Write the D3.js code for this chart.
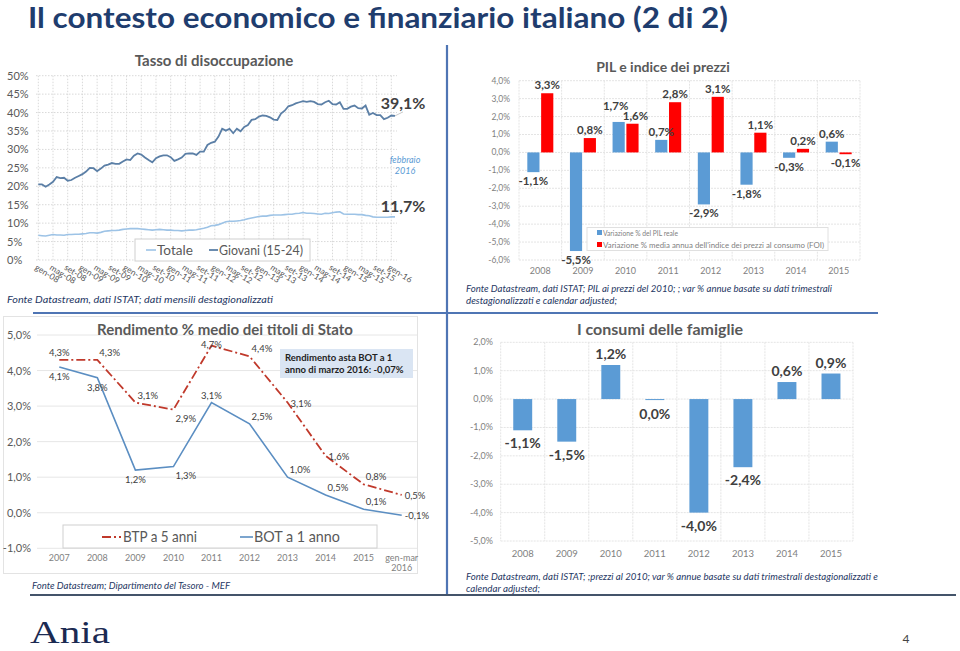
<!DOCTYPE html>
<html><head><meta charset="utf-8">
<script src="https://cdn.jsdelivr.net/npm/d3@7"></script>
<style>
html,body{margin:0;padding:0;background:#fff;}
svg{display:block;font-family:Lato,"Open Sans",sans-serif;}
</style></head>
<body>
<svg id="slide" width="960" height="651"></svg>
<script>
// ---------- DATA ----------
// Chart 1: Tasso di disoccupazione (monthly, gen-08 .. feb-16)
const unempTickLabels = ["gen-08","mag-08","set-08","gen-09","mag-09","set-09","gen-10","mag-10","set-10","gen-11","mag-11","set-11","gen-12","mag-12","set-12","gen-13","mag-13","set-13","gen-14","mag-14","set-14","gen-15","mag-15","set-15","gen-16"];
const giovani = [20.5,20.5,19.9,20.5,21.2,22.5,22.2,22.3,21.5,21.7,22.3,22.8,23.3,24.0,25.0,24.9,24.1,24.8,25.6,25.9,26.3,26.1,26.1,26.7,27.3,27.1,28.3,28.9,28.6,27.8,27.1,26.5,27.6,28.1,28.4,28.4,27.9,26.9,27.3,27.8,28.8,28.9,28.9,28.5,29.4,29.4,31.2,31.8,32.1,33.5,35.6,35.1,35.6,34.4,35.6,34.9,36.1,36.6,38.0,38.2,38.9,39.2,39.1,38.7,38.1,38.0,39.7,40.5,41.7,42.0,42.5,42.8,43.1,42.9,43.1,42.9,42.3,42.2,42.8,43.2,42.3,42.2,42.8,41.0,41.0,41.6,41.9,41.2,41.1,41.9,39.4,39.9,39.3,39.3,38.2,38.6,39.2,39.1];
const totale = [6.7,6.6,6.5,6.7,6.9,6.8,6.8,6.7,6.9,6.9,7.0,7.0,7.1,7.2,7.4,7.4,7.3,7.5,7.8,7.9,8.0,8.0,8.1,8.3,8.4,8.5,8.5,8.5,8.4,8.3,8.2,8.1,8.2,8.3,8.2,8.1,8.1,8.0,8.0,7.9,8.0,8.1,8.1,8.2,8.4,8.6,8.9,9.3,9.4,9.6,10.0,10.4,10.5,10.5,10.6,10.7,10.9,11.2,11.4,11.6,11.8,11.9,11.9,12.1,12.2,12.2,12.2,12.3,12.4,12.4,12.6,12.7,12.9,12.7,12.7,12.6,12.5,12.4,12.7,12.6,12.8,13.0,13.1,12.5,12.4,12.4,12.4,12.3,12.3,12.1,12.0,11.7,11.6,11.6,11.6,11.6,11.7,11.7];
const unempYTicks = [0,5,10,15,20,25,30,35,40,45,50];

// Chart 2: PIL e indice dei prezzi
const pilYears = ["2008","2009","2010","2011","2012","2013","2014","2015"];
const pilReale = [-1.1,-5.5,1.7,0.7,-2.9,-1.8,-0.3,0.6];
const prezziFOI = [3.3,0.8,1.6,2.8,3.1,1.1,0.2,-0.1];
const pilYTicks = [4,3,2,1,0,-1,-2,-3,-4,-5,-6];
const pilSeriesNames = ["Variazione %  del PIL reale","Variazione % media annua dell'indice dei prezzi al consumo (FOI)"];

// Chart 3: Rendimento % medio dei titoli di Stato
const rendYears = ["2007","2008","2009","2010","2011","2012","2013","2014","2015","gen-mar|2016"];
const btp5 = [4.3,4.3,3.1,2.9,4.7,4.4,3.1,1.6,0.8,0.5];
const bot1 = [4.1,3.8,1.2,1.3,3.1,2.5,1.0,0.5,0.1,-0.07];
const btpLabelPlace = ["t","tr","tr","br","o","tr","r","r","tr","r"];
const botLabelPlace = ["b","b","b","br","t","tr","tr","tr","tr","r"];
const rendYTicks = [5,4,3,2,1,0,-1];

// Chart 4: I consumi delle famiglie
const consYears = ["2008","2009","2010","2011","2012","2013","2014","2015"];
const consumi = [-1.1,-1.5,1.2,-0.03,-4.0,-2.4,0.6,0.9];
const consYTicks = [2,1,0,-1,-2,-3,-4,-5];

// ---------- HELPERS ----------
const svg = d3.select("#slide");
const fmtPct1 = v => (Math.round(v*10)/10).toFixed(1).replace(".",",") + "%";
function fit(sel, w){
  sel.each(function(){
    const L = this.getComputedTextLength();
    if (L > 0 && Math.abs(L - w) > 0.5) { d3.select(this).attr("textLength", w).attr("lengthAdjust","spacingAndGlyphs"); }
  });
  return sel;
}
const navy = "#1F3864";
const grey = "#595959";
const gridCol = "#d9d9d9";

// ---------- SLIDE FRAME ----------
fit(svg.append("text").attr("x",28).attr("y",28).attr("font-size",28).attr("font-weight",700)
  .attr("fill","#1F3D6E").text("Il contesto economico e finanziario italiano (2 di 2)"), 700);

svg.append("line").attr("x1",447).attr("x2",447).attr("y1",45).attr("y2",594).attr("stroke","#4F75B4").attr("stroke-width",2.2);
svg.append("line").attr("x1",33).attr("x2",878).attr("y1",313).attr("y2",313).attr("stroke","#4F75B4").attr("stroke-width",2.2);
svg.append("line").attr("x1",30).attr("x2",956).attr("y1",595).attr("y2",595).attr("stroke","#44546A").attr("stroke-width",2);

fit(svg.append("text").attr("x",30).attr("y",643).attr("font-family","'Liberation Serif','DejaVu Serif',serif")
  .attr("font-size",31).attr("fill","#1B2A52").text("Ania"), 80);
svg.append("text").attr("x",906).attr("y",643).attr("text-anchor","middle").attr("font-size",12).attr("fill","#444").text("4");

// ---------- CHART 1: Tasso di disoccupazione ----------
(function(){
  const g = svg.append("g");
  const x = d3.scaleLinear().domain([0, giovani.length-1]).range([38.3, 395]);
  const y = d3.scaleLinear().domain([0,50]).range([260, 75.7]);
  g.selectAll(".hg").data(unempYTicks).join("line")
    .attr("x1",36).attr("x2",397).attr("y1",d=>y(d)).attr("y2",d=>y(d))
    .attr("stroke",gridCol).attr("stroke-dasharray","1.5,1.5");
  const vticks = unempTickLabels.map((l,i)=>i*4);
  g.selectAll(".vg").data(vticks).join("line")
    .attr("x1",d=>x(d)).attr("x2",d=>x(d)).attr("y1",y(50)).attr("y2",y(0))
    .attr("stroke",gridCol).attr("stroke-dasharray","1.5,1.5");
  g.selectAll(".yl").data(unempYTicks).join("text")
    .attr("x",7).attr("y",d=>y(d)+4).attr("font-size",11).attr("fill",grey).text(d=>d+"%");
  g.selectAll(".xl").data(unempTickLabels).join("text")
    .attr("transform",(d,i)=>`translate(${x(i*4)-4},${269}) rotate(32)`)
    .attr("font-size",8.5).attr("fill",grey).text(d=>d);
  const line = d3.line().x((d,i)=>x(i)).y(d=>y(d));
  g.append("path").datum(totale).attr("d",line).attr("fill","none").attr("stroke","#9DC3E6").attr("stroke-width",1.6);
  g.append("path").datum(giovani).attr("d",line).attr("fill","none").attr("stroke","#5B7FA6").attr("stroke-width",1.8);
  g.append("text").attr("x",214).attr("y",66).attr("text-anchor","middle").attr("font-size",15).attr("font-weight",700)
    .attr("fill",grey).text("Tasso di disoccupazione");
  const last = giovani.length-1;
  g.append("line").attr("x1",x(last)).attr("y1",y(giovani[last])).attr("x2",x(last)+8).attr("y2",y(giovani[last])-4).attr("stroke","#bbb").attr("stroke-width",0.8);
  g.append("text").attr("x",403).attr("y",109).attr("text-anchor","middle").attr("font-size",16).attr("font-weight",700)
    .attr("fill","#404040").text(fmtPct1(giovani[last]));
  g.append("text").attr("x",403).attr("y",212).attr("text-anchor","middle").attr("font-size",16).attr("font-weight",700)
    .attr("fill","#404040").text(fmtPct1(totale[last]));
  g.append("text").attr("x",405).attr("y",163).attr("text-anchor","middle").attr("font-size",9).attr("font-style","italic")
    .attr("fill","#5B9BD5").text("febbraio");
  g.append("text").attr("x",405).attr("y",174).attr("text-anchor","middle").attr("font-size",9).attr("font-style","italic")
    .attr("fill","#5B9BD5").text("2016");
  const lg = g.append("g");
  lg.append("rect").attr("x",135).attr("y",239).attr("width",175).attr("height",22).attr("fill","#fff").attr("stroke","#d0d0d0");
  lg.append("line").attr("x1",146).attr("x2",156).attr("y1",250).attr("y2",250).attr("stroke","#9DC3E6").attr("stroke-width",1.6);
  fit(lg.append("text").attr("x",157).attr("y",255).attr("font-size",13).attr("fill",grey).text("Totale"),36);
  lg.append("line").attr("x1",209).attr("x2",218).attr("y1",250).attr("y2",250).attr("stroke","#5B7FA6").attr("stroke-width",1.8);
  fit(lg.append("text").attr("x",219).attr("y",255).attr("font-size",13).attr("fill",grey).text("Giovani (15-24)"),84);
  fit(g.append("text").attr("x",7).attr("y",303).attr("font-size",10).attr("font-style","italic").attr("fill",navy)
    .text("Fonte Datastream, dati ISTAT; dati mensili destagionalizzati"),266);
})();

// ---------- CHART 2: PIL e indice dei prezzi ----------
(function(){
  const g = svg.append("g");
  const x0 = d3.scaleBand().domain(pilYears).range([519,860]).paddingInner(0.39).paddingOuter(0.195);
  const x1 = d3.scaleBand().domain([0,1]).range([0,x0.bandwidth()]).paddingInner(0.12);
  const y = d3.scaleLinear().domain([-6,4]).range([260,80.7]);
  g.selectAll(".hg").data(pilYTicks).join("line")
    .attr("x1",519).attr("x2",860).attr("y1",d=>y(d)).attr("y2",d=>y(d))
    .attr("stroke","#e4e4e4").attr("stroke-dasharray","2,1");
  const bounds = pilYears.map((d,i)=>i).concat([pilYears.length]);
  g.selectAll(".vg").data(bounds).join("line")
    .attr("x1",d=>519+d*x0.step()).attr("x2",d=>519+d*x0.step()).attr("y1",y(4)).attr("y2",y(-6))
    .attr("stroke","#e4e4e4").attr("stroke-dasharray","2,1");
  g.selectAll(".yl").data(pilYTicks).join("text")
    .attr("x",510).attr("y",d=>y(d)+3).attr("text-anchor","end").attr("font-size",8.5).attr("fill","#7f7f7f")
    .text(d=>d.toFixed(1).replace(".",",")+"%");
  g.selectAll(".xl").data(pilYears).join("text")
    .attr("x",d=>x0(d)+x0.bandwidth()/2).attr("y",274).attr("text-anchor","middle").attr("font-size",9).attr("fill","#7f7f7f").text(d=>d);
  const series = [pilReale, prezziFOI];
  const cols = ["#5B9BD5","#FF0000"];
  series.forEach((vals,si)=>{
    g.selectAll(".b"+si).data(vals).join("rect")
      .attr("x",(d,i)=>x0(pilYears[i])+x1(si)).attr("width",x1.bandwidth())
      .attr("y",d=>y(Math.max(0,d))).attr("height",d=>Math.abs(y(d)-y(0)))
      .attr("fill",cols[si]);
  });
  series.forEach((vals,si)=>{
    g.selectAll(".t"+si).data(vals).join("text")
      .attr("x",(d,i)=>{
        const cx = x0(pilYears[i])+x1(si)+x1.bandwidth()/2;
        const other = series[1-si][i];
        const clash = d>=0 && other>=0 && Math.abs(d-other)<0.4;
        return clash ? cx + (si===0?-3:3) : cx;
      })
      .attr("y",(d,i)=>{
        const other = series[1-si][i];
        const clash = d>=0 && other>=0 && Math.abs(d-other)<0.4;
        if (d<0) return y(d)+13;
        return clash && d>=other ? y(d)-12 : y(d)-4;
      })
      .attr("text-anchor","middle").attr("font-size",11.5).attr("font-weight",700).attr("fill","#404040")
      .text(d=>fmtPct1(d));
  });
  g.append("text").attr("x",663).attr("y",72).attr("text-anchor","middle").attr("font-size",14).attr("font-weight",700)
    .attr("fill",grey).text("PIL e indice dei prezzi");
  const lg = g.append("g");
  lg.append("rect").attr("x",587).attr("y",227.5).attr("width",241).attr("height",23).attr("fill","#fff").attr("stroke","#e0e0e0");
  pilSeriesNames.forEach((n,i)=>{
    lg.append("rect").attr("x",597).attr("y",230+i*12).attr("width",5).attr("height",5).attr("fill",cols[i]);
    const t = lg.append("text").attr("x",603).attr("y",235.5+i*12).attr("font-size",7.5).attr("fill","#7f7f7f").text(n);
    fit(t, i===0 ? 75 : 221);
  });
  fit(g.append("text").attr("x",466).attr("y",292).attr("font-size",10).attr("font-style","italic").attr("fill",navy)
    .text("Fonte Datastream, dati ISTAT; PIL ai prezzi del 2010; ; var % annue basate su dati trimestrali"),366);
  fit(g.append("text").attr("x",466).attr("y",304).attr("font-size",10).attr("font-style","italic").attr("fill",navy)
    .text("destagionalizzati e calendar adjusted;"),151);
})();

// ---------- CHART 3: Rendimento ----------
(function(){
  const g = svg.append("g");
  g.append("rect").attr("x",3.5).attr("y",316.5).attr("width",414).attr("height",257).attr("fill","none").attr("stroke","#e3e3e3");
  const x = d3.scalePoint().domain(rendYears).range([59.3,401.7]);
  const y = d3.scaleLinear().domain([-1,5]).range([548.3,335]);
  g.selectAll(".hg").data(rendYTicks).join("line")
    .attr("x1",37).attr("x2",417).attr("y1",d=>y(d)).attr("y2",d=>y(d)).attr("stroke","#e6e6e6");
  g.selectAll(".yl").data(rendYTicks).join("text")
    .attr("x",31).attr("y",d=>y(d)+4).attr("text-anchor","end").attr("font-size",11).attr("fill",grey)
    .text(d=>d.toFixed(1).replace(".",",")+"%");
  g.selectAll(".xl").data(rendYears).join("text")
    .attr("x",d=>x(d)).attr("y",561).attr("text-anchor","middle").attr("font-size",9).attr("fill","#7f7f7f")
    .each(function(d){
      const parts = d.split("|");
      d3.select(this).selectAll("tspan").data(parts).join("tspan")
        .attr("x",x(d)).attr("dy",(p,i)=>i?10:0).text(p=>p);
    });
  g.append("text").attr("x",225).attr("y",335).attr("text-anchor","middle").attr("font-size",15).attr("font-weight",700)
    .attr("fill",grey).text("Rendimento % medio dei titoli di Stato");
  const line = d3.line().x((d,i)=>x(rendYears[i])).y(d=>y(d));
  g.append("path").datum(btp5).attr("d",line).attr("fill","none").attr("stroke","#C0392B").attr("stroke-width",1.8).attr("stroke-dasharray","9,3,2,3");
  g.append("path").datum(bot1).attr("d",line).attr("fill","none").attr("stroke","#5B8EC2").attr("stroke-width",1.6);
  function place(sel, vals, places){
    sel.data(vals).join("text")
      .attr("x",(d,i)=>{const px=x(rendYears[i]);const p=places[i];
        return p==="t"||p==="b"||p==="o"?px:(p==="r"?px+3:px+2);})
      .attr("y",(d,i)=>{const py=y(d);const p=places[i];
        return p==="t"?py-4:p==="o"?py+2:p==="b"?py+13:p==="r"?py+4:p==="tr"?py-4:py+12;})
      .attr("text-anchor",(d,i)=>["t","b","o"].includes(places[i])?"middle":"start")
      .attr("font-size",9.5).attr("fill","#404040").text(d=>fmtPct1(d));
  }
  place(g.selectAll(".lb1"), btp5, btpLabelPlace);
  place(g.selectAll(".lb2"), bot1, botLabelPlace);
  g.append("rect").attr("x",280).attr("y",349).attr("width",133).attr("height",29).attr("fill","#DAE5F3");
  g.append("text").attr("x",285).attr("y",361).attr("font-size",9.5).attr("font-weight",700).attr("fill","#222").text("Rendimento asta BOT a 1");
  g.append("text").attr("x",285).attr("y",373).attr("font-size",9.5).attr("font-weight",700).attr("fill","#222").text("anno di marzo 2016: -0,07%");
  const lg = g.append("g");
  lg.append("rect").attr("x",63).attr("y",525).attr("width",314).attr("height",23).attr("fill","#fff").attr("stroke","#d0d0d0");
  lg.append("line").attr("x1",102).attr("x2",121).attr("y1",537).attr("y2",537).attr("stroke","#C0392B").attr("stroke-width",1.8).attr("stroke-dasharray","9,3,2,3");
  fit(lg.append("text").attr("x",123).attr("y",542).attr("font-size",15).attr("fill",grey).text("BTP a 5 anni"),74);
  lg.append("line").attr("x1",240).attr("x2",253).attr("y1",537).attr("y2",537).attr("stroke","#5B8EC2").attr("stroke-width",1.6);
  fit(lg.append("text").attr("x",254).attr("y",542).attr("font-size",15).attr("fill",grey).text("BOT a 1 anno"),86);
  fit(g.append("text").attr("x",32).attr("y",589).attr("font-size",10).attr("font-style","italic").attr("fill",navy)
    .text("Fonte Datastream; Dipartimento del Tesoro - MEF"),198);
})();

// ---------- CHART 4: I consumi delle famiglie ----------
(function(){
  const g = svg.append("g");
  const x = d3.scaleBand().domain(consYears).range([500.7,853]).paddingInner(0.57).paddingOuter(0.285);
  const y = d3.scaleLinear().domain([-5,2]).range([541,342.3]);
  g.selectAll(".hg").data(consYTicks).join("line")
    .attr("x1",500.7).attr("x2",853).attr("y1",d=>y(d)).attr("y2",d=>y(d))
    .attr("stroke","#e4e4e4").attr("stroke-dasharray","2,1");
  const bounds = consYears.map((d,i)=>i).concat([consYears.length]);
  g.selectAll(".vg").data(bounds).join("line")
    .attr("x1",d=>500.7+d*x.step()).attr("x2",d=>500.7+d*x.step()).attr("y1",y(2)).attr("y2",y(-5))
    .attr("stroke","#e4e4e4").attr("stroke-dasharray","2,1");
  g.selectAll(".yl").data(consYTicks).join("text")
    .attr("x",493).attr("y",d=>y(d)+3).attr("text-anchor","end").attr("font-size",9).attr("fill","#7f7f7f")
    .text(d=>d.toFixed(1).replace(".",",")+"%");
  g.selectAll(".xl").data(consYears).join("text")
    .attr("x",d=>x(d)+x.bandwidth()/2).attr("y",557).attr("text-anchor","middle").attr("font-size",9.5).attr("fill","#7f7f7f").text(d=>d);
  g.selectAll(".bar").data(consumi).join("rect")
    .attr("x",(d,i)=>x(consYears[i])).attr("width",x.bandwidth())
    .attr("y",d=>y(Math.max(0,d))).attr("height",d=>Math.max(1,Math.abs(y(d)-y(0))))
    .attr("fill","#5B9BD5");
  g.selectAll(".lbl").data(consumi).join("text")
    .attr("x",(d,i)=>x(consYears[i])+x.bandwidth()/2)
    .attr("y",d=> d>=0 ? y(d)-6 : Math.max(y(d),y(0)+2)+18)
    .attr("text-anchor","middle").attr("font-size",14).attr("font-weight",700).attr("fill","#404040")
    .text(d=>fmtPct1(d).replace("-0,0","0,0"));
  g.append("text").attr("x",660).attr("y",335).attr("text-anchor","middle").attr("font-size",16).attr("font-weight",700)
    .attr("fill",grey).text("I consumi delle famiglie");
  fit(g.append("text").attr("x",466).attr("y",580).attr("font-size",10).attr("font-style","italic").attr("fill",navy)
    .text("Fonte Datastream, dati ISTAT; ;prezzi al 2010; var % annue basate su dati trimestrali destagionalizzati e"),412);
  fit(g.append("text").attr("x",466).attr("y",592).attr("font-size",10).attr("font-style","italic").attr("fill",navy)
    .text("calendar adjusted;"),74);
})();
</script>
</body></html>
